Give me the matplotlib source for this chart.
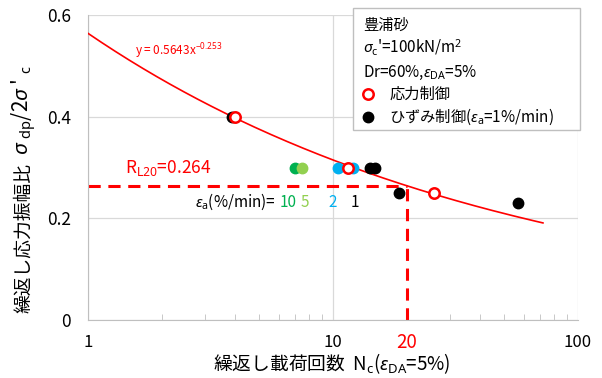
import numpy as np
import matplotlib
matplotlib.use("Agg")
import matplotlib.pyplot as plt
from matplotlib.patches import Rectangle

plt.rcParams['font.family'] = ['Noto Sans CJK JP', 'DejaVu Sans']
plt.rcParams['mathtext.fontset'] = 'custom'
plt.rcParams['mathtext.rm'] = 'Noto Sans'
plt.rcParams['mathtext.it'] = 'Noto Sans:italic'

# stress-controlled tests (open red circles)
stress_N = [4.0, 11.5, 25.8]
stress_R = [0.40, 0.30, 0.25]

# strain-controlled tests, by strain rate (%/min)
rate10_N = [7.0]
rate10_R = [0.30]
rate5_N = [7.5]
rate5_R = [0.30]
rate2_N = [10.5, 12.1]
rate2_R = [0.30, 0.30]
rate1_N = [3.87, 14.2, 14.8, 18.6, 57.0]
rate1_R = [0.40, 0.30, 0.30, 0.25, 0.23]

# fitted curve y = a * x^b
fit_a = 0.5643
fit_b = -0.253
fit_xmax = 72.0

RL20 = 0.264
N20 = 20

green_dark = '#00B050'
green_light = '#92D050'
blue = '#00B0F0'
red = '#FF0000'

fig = plt.figure(figsize=(6.02, 3.78), dpi=100)
ax = fig.add_axes([0.146, 0.153, 0.814, 0.807])

xs = np.logspace(0, np.log10(fit_xmax), 200)
ax.plot(xs, fit_a * xs ** fit_b, color=red, lw=1.2, zorder=3)

ax.plot([1, N20], [RL20, RL20], color=red, lw=2.2, ls=(0, (4, 2.5)), zorder=2)
ax.plot([N20, N20], [0, RL20], color=red, lw=2.2, ls=(0, (4, 2.5)), zorder=2)

ms = 7.5
ax.plot(rate10_N, rate10_R, 'o', color=green_dark, ms=ms, zorder=4)
ax.plot(rate5_N, rate5_R, 'o', color=green_light, ms=ms, zorder=4)
ax.plot(rate2_N, rate2_R, 'o', color=blue, ms=ms, zorder=4)
ax.plot(rate1_N, rate1_R, 'o', color='black', ms=ms, zorder=4)
ax.plot(stress_N, stress_R, 'o', mfc='white', mec=red, mew=1.8, ms=ms, zorder=5)

ax.set_xscale('log')
ax.set_xlim(1, 100)
ax.set_ylim(0, 0.6)
ax.set_yticks([0, 0.2, 0.4, 0.6])
ax.set_yticklabels(['0', '0.2', '0.4', '0.6'])
ax.set_xticks([1, 10, 100])
ax.set_xticklabels(['1', '10', '100'])
ax.grid(True, which='major', color='#d9d9d9', lw=0.9)
ax.set_axisbelow(True)
for s in ['top', 'right']:
    ax.spines[s].set_visible(False)
for s in ['left', 'bottom']:
    ax.spines[s].set_color('#bfbfbf')
ax.tick_params(axis='x', which='both', direction='in', colors='#bfbfbf',
               labelcolor='black', labelsize=12, pad=10)
ax.tick_params(axis='x', which='major', length=0)
ax.tick_params(axis='x', which='minor', length=4)
ax.tick_params(axis='y', length=0, labelsize=12.5, pad=12)

# axis titles
fig.text(0.040, (378 - 238) / 378, '繰返し応力振幅比', rotation=90, fontsize=13.5,
         ha='center', va='center')
fig.text(0.040, (378 - 110) / 378, "$\\sigma$ $_{\\rm dp}$/2$\\sigma$ ' $_{\\rm c}$",
         rotation=90, fontsize=15, ha='center', va='center')
fig.text(0.552, (378 - 364) / 378, "繰返し載荷回数  N$_{\\rm c}$($\\epsilon_{\\rm DA}$=5%)",
         fontsize=13.5, ha='center', va='center')

ax.text(N20, -0.043, '20', color=red, fontsize=13.5, ha='center', va='center', clip_on=False)
ax.text(1.42, 0.30, 'R$_{\\rm L20}$=0.264', color=red, fontsize=12.5, va='center')
ax.text(1.55, 0.53, 'y = 0.5643x$^{-0.253}$', color=red, fontsize=8.5, va='center')

ty = 0.232
ax.text(5.85, ty, '$\\epsilon_{\\rm a}$(%/min)=', fontsize=11, ha='right', va='center')
ax.text(6.55, ty, '10', color=green_dark, fontsize=11, ha='center', va='center')
ax.text(7.7, ty, '5', color=green_light, fontsize=11, ha='center', va='center')
ax.text(10.0, ty, '2', color=blue, fontsize=11, ha='center', va='center')
ax.text(12.3, ty, '1', color='black', fontsize=11, ha='center', va='center')

# legend box
box = Rectangle((0.541, 0.623), 0.463, 0.40, transform=ax.transAxes, fc='white',
                ec='#bfbfbf', lw=1.0, clip_on=False, zorder=6)
ax.add_patch(box)
lx = 0.561
fs = 11
ax.text(lx, 0.965, '豊浦砂', transform=ax.transAxes, fontsize=fs, va='center', zorder=7)
ax.text(lx, 0.893, "$\\sigma_{\\rm c}$'=100kN/m$^2$", transform=ax.transAxes, fontsize=fs,
        va='center', zorder=7)
ax.text(lx, 0.81, 'Dr=60%,$\\epsilon_{\\rm DA}$=5%', transform=ax.transAxes, fontsize=fs,
        va='center', zorder=7)
ax.plot([0.572], [0.74], 'o', transform=ax.transAxes, mfc='white', mec=red, mew=1.8,
        ms=ms, clip_on=False, zorder=7)
ax.text(0.615, 0.74, '応力制御', transform=ax.transAxes, fontsize=fs, va='center', zorder=7)
ax.plot([0.572], [0.665], 'o', transform=ax.transAxes, color='black', ms=ms,
        clip_on=False, zorder=7)
ax.text(0.615, 0.665, 'ひずみ制御($\\epsilon_{\\rm a}$=1%/min)', transform=ax.transAxes,
        fontsize=fs, va='center', zorder=7)

fig.savefig('out.png', dpi=100)
